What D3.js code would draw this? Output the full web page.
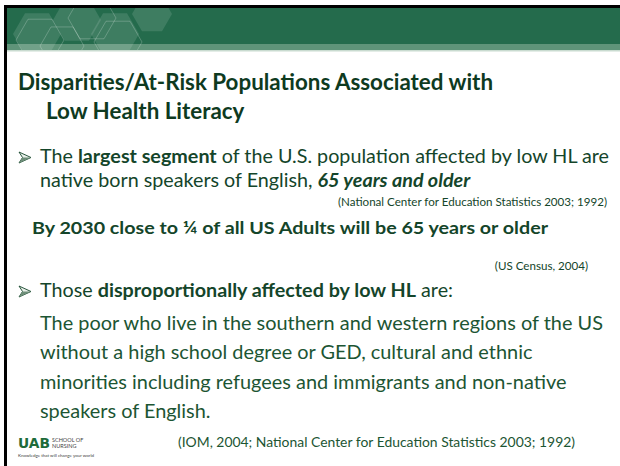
<!DOCTYPE html>
<html>
<head>
<meta charset="utf-8">
<script src="https://cdn.jsdelivr.net/npm/d3@7"></script>
<style>
  body { margin: 0; background: #fff; }
  svg { display: block; font-family: Lato, 'Open Sans', sans-serif; }
</style>
</head>
<body>
<svg id="slide" width="620" height="466"></svg>
<script>
// slide content, one entry per text line: [text, weight/style flags]
const titleLines = [
  [['Disparities/At-Risk Populations Associated with', 'b']],
  [['Low Health Literacy', 'b']]
];
const bullet1 = [
  [['The ', ''], ['largest segment', 'b'], [' of the U.S. population affected by low HL are', '']],
  [['native born speakers of English, ', ''], ['65 years and older', 'bi']]
];
const cite1 = '(National Center for Education Statistics 2003; 1992)';
const highlight = [['By 2030 close to \u00BC of all US Adults will be 65 years or older', 'b']];
const cite2 = '(US Census, 2004)';
const bullet2 = [
  [['Those ', ''], ['disproportionally affected by low HL', 'b'], [' are:', '']]
];
const bodyLines = [
  'The poor who live in the southern and western regions of the US',
  'without a high school degree or GED, cultural and ethnic',
  'minorities including refugees and immigrants and non-native',
  'speakers of English.'
];
const cite3 = '(IOM, 2004; National Center for Education Statistics 2003; 1992)';

const W = 620, H = 466;
const green = '#246b4c';
const ink = '#14452a';
const svg = d3.select('#slide');

// header band
svg.append('rect').attr('x', 5).attr('y', 6).attr('width', W).attr('height', 44).attr('fill', green);
svg.append('rect').attr('x', 5).attr('y', 44).attr('width', W).attr('height', 6).attr('fill', '#5f9479');
svg.append('rect').attr('x', 5).attr('y', 50).attr('width', W).attr('height', 1.5).attr('fill', '#c9dbd0');

// hexagons
function hex(cx, cy, r) {
  const pts = d3.range(6).map(i => {
    const a = Math.PI / 3 * i;
    return [cx + r * Math.cos(a), cy + r * Math.sin(a)];
  });
  return d3.line()(pts) + 'Z';
}
const hexFill = [[37, 34, 24], [77, 20, 24], [115, 34, 24], [152, 14, 20]];
const hexLine = [[40, 40, 24], [92, 18, 24], [118, 42, 24], [62, 46, 22]];
const clip = svg.append('clipPath').attr('id', 'hb');
clip.append('rect').attr('x', 7).attr('y', 8).attr('width', W).attr('height', 42);
const hg = svg.append('g').attr('clip-path', 'url(#hb)');
hg.selectAll('path.f').data(hexFill).join('path').attr('class', 'f')
  .attr('d', d => hex(...d)).attr('fill', '#fff').attr('fill-opacity', 0.12);
hg.selectAll('path.o').data(hexLine).join('path').attr('class', 'o')
  .attr('d', d => hex(...d)).attr('fill', 'none').attr('stroke', '#fff')
  .attr('stroke-opacity', 0.22).attr('stroke-width', 1);

// black frame top / left
svg.append('rect').attr('x', 4).attr('y', 5).attr('width', W).attr('height', 3).attr('fill', '#000');
svg.append('rect').attr('x', 4).attr('y', 5).attr('width', 3).attr('height', H).attr('fill', '#000');

function line(segs, x, y, size, color, anchor) {
  const t = svg.append('text').attr('x', x).attr('y', y)
    .attr('font-size', size).attr('fill', color || ink)
    .attr('text-anchor', anchor || 'start');
  if (typeof segs === 'string') segs = [[segs, '']];
  t.selectAll('tspan').data(segs).join('tspan')
    .text(d => d[0])
    .attr('font-weight', d => d[1].includes('b') ? 700 : 400)
    .attr('font-style', d => d[1].includes('i') ? 'italic' : 'normal');
  return t;
}
// squeeze a group of lines by the factor that makes the first one fit its width
function squeeze(texts, target) {
  const k = target / texts[0].node().getComputedTextLength();
  texts.forEach(t => {
    const w = t.node().getComputedTextLength();
    t.attr('textLength', w * k).attr('lengthAdjust', 'spacingAndGlyphs');
  });
  return k;
}
function arrow(y) {
  svg.append('path')
    .attr('d', 'M19,' + (y - 11) + 'L31,' + (y - 5.5) + 'L19,' + y + 'L22.5,' + (y - 5.5) + 'Z')
    .attr('fill', '#e8efe9').attr('stroke', ink).attr('stroke-width', 0.9)
    .attr('stroke-linejoin', 'round');
  svg.append('path')
    .attr('d', 'M22.5,' + (y - 5.5) + 'L31,' + (y - 5.5) + 'L19,' + y + 'Z')
    .attr('fill', '#6f8f7a');
}

const title = titleLines.map((l, i) => line(l, i ? 46 : 18, i ? 119 : 90, 22, '#0e3a1f'));
squeeze(title, 475);

arrow(163);
arrow(297);
const b1 = bullet1.map((l, i) => line(l, 40, i ? 187 : 163, 19));
const b2 = bullet2.map(l => line(l, 40, 297, 19));
squeeze(b1.concat(b2), 569);

const hl = line(highlight, 32, 234, 17.5);
squeeze([hl], 516);

const bodyY = d3.scaleLinear().domain([0, 3]).range([330, 418]);
const body = bodyLines.map((s, i) => line(s, 40, bodyY(i), 19.2, '#1c5533'));
squeeze(body, 563);

const c1 = line(cite1, 607, 206, 10.8, null, 'end');
const c2 = line(cite2, 588, 270, 10.8, null, 'end');
squeeze([c1, c2], 269);
const c3 = line(cite3, 178, 447, 13, '#1c5533');
squeeze([c3], 397);

// logo
const logo = svg.append('g').attr('transform', 'translate(18,448)');
logo.append('text').attr('font-size', 14).attr('font-weight', 900)
  .attr('font-family', 'DejaVu Sans').attr('fill', '#1e6b3a')
  .attr('textLength', 32).attr('lengthAdjust', 'spacingAndGlyphs').text('UAB');
logo.append('text').attr('x', 34).attr('y', -6).attr('font-size', 5.5).attr('fill', '#444').text('SCHOOL OF');
logo.append('text').attr('x', 34).attr('y', 0).attr('font-size', 5.5).attr('fill', '#444').text('NURSING');
logo.append('text').attr('x', 0).attr('y', 9).attr('font-size', 4.5).attr('fill', '#444')
  .attr('textLength', 76).text('Knowledge that will change your world');
</script>
</body>
</html>
